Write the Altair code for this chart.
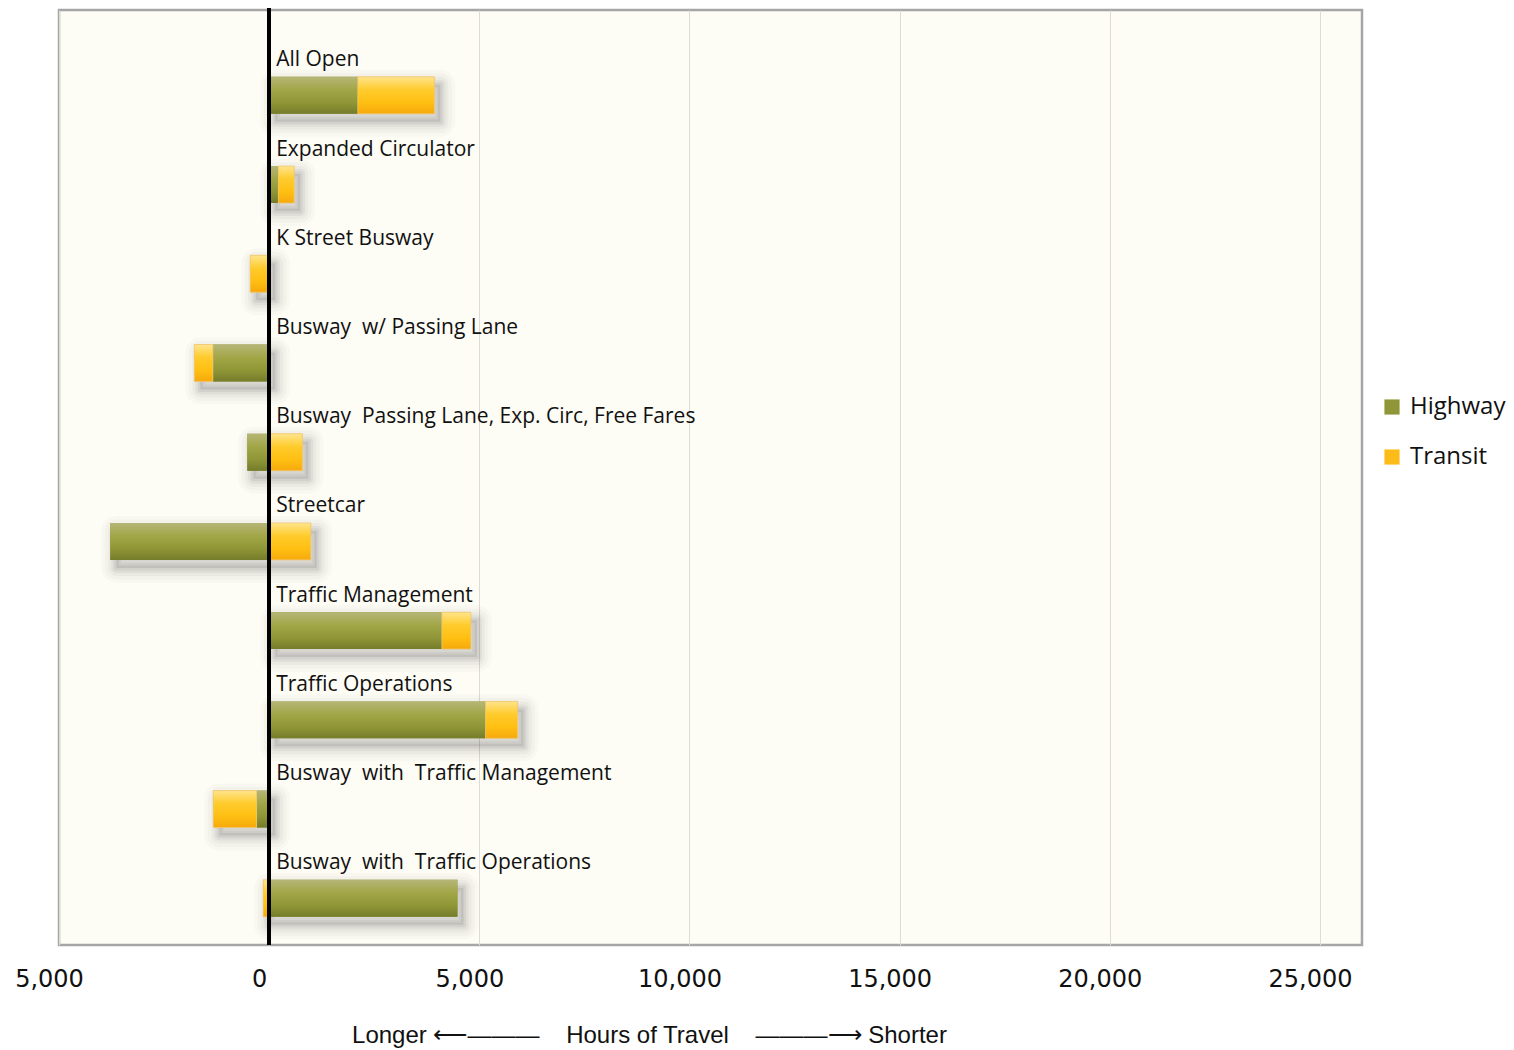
import altair as alt
import pandas as pd

categories = [
    "All Open",
    "Expanded Circulator",
    "K Street Busway",
    "Busway\u00a0 w/ Passing Lane",
    "Busway\u00a0 Passing Lane, Exp. Circ, Free Fares",
    "Streetcar",
    "Traffic Management",
    "Traffic Operations",
    "Busway\u00a0 with\u00a0 Traffic Management",
    "Busway\u00a0 with\u00a0 Traffic Operations",
]
highway = [2110, 220, 0, -1340, -520, -3780, 4110, 5150, -300, 4480]
transit = [1820, 375, -450, -440, 790, 990, 690, 760, -1030, -140]
series = ["Highway", "Transit"]
tick_values = [-5000, 0, 5000, 10000, 15000, 20000, 25000]

rows = []
for i, c in enumerate(categories):
    rows.append({"cat": c, "series": "Highway", "value": highway[i], "order": 0})
    rows.append({"cat": c, "series": "Transit", "value": transit[i], "order": 1})
df = pd.DataFrame(rows)
lab_df = pd.DataFrame({"cat": categories})

AXIS_TITLE = ("Longer \u27f5\u2014\u2014\u2014\u00a0\u00a0\u00a0 Hours of Travel "
              "\u00a0\u00a0\u00a0\u2014\u2014\u2014\u27f6 Shorter")

xscale = alt.Scale(domain=[-5000, 26000], nice=False, zero=False)
xaxis = alt.Axis(
    values=tick_values,
    labelExpr="format(abs(datum.value), ',')",
    grid=True, gridColor="#dedbd2", gridWidth=1,
    ticks=False, domain=False, labelFlush=False, labelOverlap=False,
    labelFont="DejaVu Sans", labelFontSize=24, labelColor="#111111",
    labelPadding=22, labelOffset=-10,
    title=AXIS_TITLE, titleFont="Liberation Sans", titleFontSize=24,
    titleFontWeight="normal", titleColor="#111111", titlePadding=32,
    titleX=590, titleAlign="center",
)
yenc = alt.Y(
    "cat:N", sort=categories,
    scale=alt.Scale(paddingInner=0.586, paddingOuter=0.533, align=0.703),
    axis=None,
)

base = alt.Chart(df).transform_stack(
    stack="value", groupby=["cat"], as_=["x0", "x1"],
    sort=[alt.SortField("order", "ascending")],
)

shadow_base = base.transform_calculate(
    lo="min(datum.x0, datum.x1)", hi="max(datum.x0, datum.x1)"
).transform_aggregate(lo="min(lo)", hi="max(hi)", groupby=["cat"])

sh_enc = dict(x=alt.X("lo:Q", scale=xscale, axis=xaxis), x2="hi:Q", y=yenc)
OFF = dict(xOffset=6, yOffset=8, x2Offset=6, y2Offset=8)
shadows = []
for sw, so in [(30, 0.018), (23, 0.024), (16, 0.032), (10, 0.042), (5, 0.055)]:
    shadows.append(shadow_base.mark_bar(
        fill="#000000", fillOpacity=0.0, stroke="#000000", strokeOpacity=so,
        strokeWidth=sw, strokeJoin="round", **OFF,
    ).encode(**sh_enc))
shadows.append(shadow_base.mark_bar(
    fill="#000000", fillOpacity=0.08, strokeWidth=0, **OFF,
).encode(**sh_enc))

bar_enc = dict(x=alt.X("x0:Q", scale=xscale, axis=xaxis), x2="x1:Q", y=yenc)

flat = base.mark_bar().encode(
    color=alt.Color(
        "series:N",
        scale=alt.Scale(domain=series, range=["#8f9638", "#fdbb1a"]),
        legend=alt.Legend(
            title=None, orient="none", legendX=1321, legendY=385,
            symbolType="square", symbolSize=230, symbolStrokeWidth=0,
            labelFont="Open Sans", labelFontSize=24, labelColor="#111111",
            labelOffset=6, rowPadding=26, padding=0,
        ),
    ),
    **bar_enc,
)

hw_grad = alt.Gradient(
    gradient="linear", x1=0, x2=0, y1=0, y2=1,
    stops=[
        alt.GradientStop(color="#b6b677", offset=0),
        alt.GradientStop(color="#a2a647", offset=0.35),
        alt.GradientStop(color="#8f9636", offset=0.7),
        alt.GradientStop(color="#757c2b", offset=1),
    ],
)
tr_grad = alt.Gradient(
    gradient="linear", x1=0, x2=0, y1=0, y2=1,
    stops=[
        alt.GradientStop(color="#ffe58c", offset=0),
        alt.GradientStop(color="#ffcb2c", offset=0.35),
        alt.GradientStop(color="#ffbf12", offset=0.7),
        alt.GradientStop(color="#f6a90c", offset=1),
    ],
)
hw_bar = base.transform_filter(alt.datum.series == "Highway").mark_bar(
    color=hw_grad
).encode(**bar_enc)
tr_bar = base.transform_filter(alt.datum.series == "Transit").mark_bar(
    color=tr_grad, stroke="#f0c878", strokeWidth=0.8
).encode(**bar_enc)

labels = alt.Chart(lab_df).mark_text(
    align="left", baseline="middle", dx=7, dy=-35,
    font="Open Sans", fontSize=21, color="#111111",
).encode(
    x=alt.X(datum=0, scale=xscale, axis=xaxis),
    y=yenc,
    text="cat:N",
)

zero_rule = alt.Chart(lab_df).mark_rule(color="#000000", strokeWidth=3.5).encode(
    x=alt.X(datum=0, scale=xscale, axis=xaxis),
    y=alt.value(-8),
    y2=alt.value(935),
)

chart = alt.layer(
    *shadows, flat, hw_bar, tr_bar, labels, zero_rule
).properties(
    width=1303, height=935,
    autosize="none",
    padding={"left": 51, "top": 2, "right": 144, "bottom": 104},
).configure_view(
    fill="#fdfcf5", stroke="#a6a6a6", strokeWidth=2.5,
)

chart.save("out.html", embed_options={"renderer": "svg", "actions": False})
